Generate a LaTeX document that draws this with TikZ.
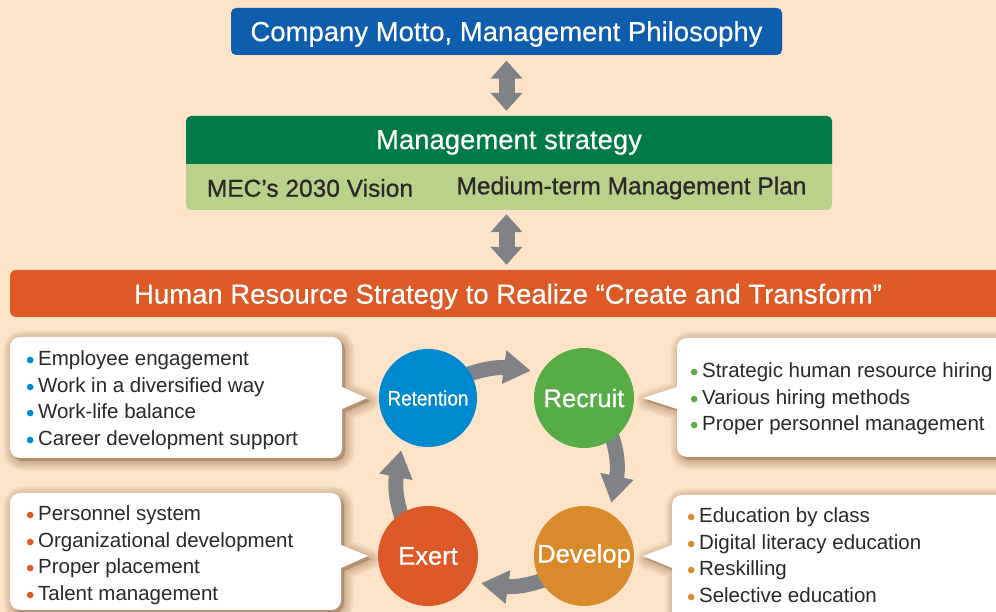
\documentclass[tikz,border=0pt]{standalone}
\usepackage{fontspec}
\usepackage{graphicx}
\setmainfont{Liberation Sans}
\newfontfamily\medfont[FakeBold=0.8]{Liberation Sans}
\newfontfamily\titlefamily[FakeBold=0.4]{Liberation Sans}
\usetikzlibrary{arrows.meta,bending,calc}

\definecolor{bgpeach}{HTML}{FDE4C8}
\definecolor{mottoblue}{HTML}{0F5DAD}
\definecolor{dkgreen}{HTML}{007B48}
\definecolor{ltgreen}{HTML}{BAD189}
\definecolor{hrorange}{HTML}{DD5A27}
\definecolor{arrowgray}{HTML}{808285}
\definecolor{retblue}{HTML}{0089CF}
\definecolor{recgreen}{HTML}{58AC47}
\definecolor{exorange}{HTML}{DD5A28}
\definecolor{devgold}{HTML}{D98B2B}
\definecolor{txt}{HTML}{2A2828}
\definecolor{shadebrown}{HTML}{7A4A20}

% coloured list bullet
\newcommand\itembullet[1]{\raisebox{-3pt}{\fontsize{24}{24}\selectfont\textcolor{#1}{•}}\hspace{3.5pt}}

% outlines of the four speech bubbles
\newcommand\bubbleRet{(176,275) [rounded corners=10pt] -- (342,275) -- (342,235) [sharp corners]
  -- (342,225) -- (367,214) -- (342,203) -- (342,193) [rounded corners=10pt]
  -- (342,154) -- (10,154) -- (10,275) -- cycle}
\newcommand\bubbleRec{(840,274) [rounded corners=10pt] -- (1010,274) -- (1010,155) -- (677,155)
  -- (677,193) [sharp corners] -- (677,203) -- (643,214) -- (677,225) -- (677,235)
  [rounded corners=10pt] -- (677,274) -- cycle}
\newcommand\bubbleEx{(176,119) [rounded corners=10pt] -- (341,119) -- (341,77) [sharp corners]
  -- (341,67) -- (368,56) -- (341,44) -- (341,34) [rounded corners=10pt]
  -- (341,2) -- (10,2) -- (10,119) -- cycle}
\newcommand\bubbleDev{(840,117) [rounded corners=10pt] -- (1010,117) -- (1010,-20) -- (672,-20)
  -- (672,34) [sharp corners] -- (672,44) -- (643,56) -- (672,67) -- (672,77)
  [rounded corners=10pt] -- (672,117) -- cycle}

\pgfdeclarelayer{backdrop}
\pgfdeclarelayer{cycle}
\pgfsetlayers{backdrop,cycle,main}

\begin{document}
\begin{tikzpicture}[x=1pt,y=1pt,
  titlefont/.style={font=\titlefamily\fontsize{27.5}{30}\selectfont, text=white},
  banner/.style={rounded corners=5pt, inner sep=0pt},
  updown/.style={draw=arrowgray, line width=16pt,
    {Triangle[width=31pt,length=18pt]}-{Triangle[width=31pt,length=18pt]}},
  cyc/.style={draw=arrowgray, line width=15pt, -{Triangle[width=32pt,length=27pt]},
    shorten >=10pt, shorten <=-6pt},
  stage/.style={circle, minimum size=100pt, inner sep=0pt, text=white,
    font=\medfont\fontsize{25.5}{28}\selectfont},
  softshade/.style={draw=shadebrown, fill=shadebrown, opacity=0.035,
    line join=round, xshift=3pt, yshift=-3pt},
  item/.style={anchor=base west, inner sep=0pt, text=txt,
    font=\fontsize{20.5}{24}\selectfont},
]
\useasboundingbox (0,0) rectangle (996,612);
\begin{pgfonlayer}{backdrop}
\fill[bgpeach] (0,0) rectangle (996,612);
\end{pgfonlayer}

% ---- Company motto ----
\node[banner, fill=mottoblue, minimum width=551pt, minimum height=47pt]
  (motto) at (506.5,580.5) {};
\node[titlefont] (mottolabel) at (506.5,578) {Company Motto, Management Philosophy};

% ---- Management strategy block ----
\node[banner, fill=ltgreen, minimum width=646pt, minimum height=94pt]
  (strat) at (509,449) {};
\fill[dkgreen] (186,448) -- (186,460) [rounded corners=5pt] -- (186,496) -- (832,496)
  -- (832,460) [sharp corners] -- (832,448) -- cycle;
\node[titlefont] (stratlabel) at (509,469.5) {Management strategy};
\node[text=txt, font=\medfont\fontsize{24.5}{27}\selectfont] (vision) at (310,424) {MEC’s 2030 Vision};
\node[text=txt, font=\medfont\fontsize{24.5}{27}\selectfont] (plan) at (631.5,424) {Medium-term Management Plan};

% ---- HR strategy bar ----
\node[rounded corners=6pt, fill=hrorange, minimum width=1010pt, minimum height=47pt]
  (hr) at (515,318.5) {};
\node[titlefont] (hrlabel) at (508,315.5) {Human Resource Strategy to Realize “Create and Transform”};

% ---- two-way links ----
\draw[updown, shorten <=5.5pt, shorten >=5pt] (motto.south) -- (motto.south |- strat.north);
\draw[updown, shorten <=4pt, shorten >=5pt] (motto.south |- strat.south) -- (motto.south |- hr.north);

% ---- callouts: soft shadow built from stacked translucent strokes, then the white body ----
\foreach \w in {20,18,...,2} {
  \filldraw[softshade, line width=\w pt] \bubbleRet;
  \filldraw[softshade, line width=\w pt] \bubbleRec;
  \filldraw[softshade, line width=\w pt] \bubbleEx;
  \filldraw[softshade, line width=\w pt] \bubbleDev;
}
\fill[white] \bubbleRet;
\fill[white] \bubbleRec;
\fill[white] \bubbleEx;
\fill[white] \bubbleDev;

\foreach \t [count=\i] in {Employee engagement, Work in a diversified way,
    Work-life balance, Career development support}
  \node[item] (ret-\i) at (26,{246.5-26.7*(\i-1)}) {\itembullet{retblue}\t};
\foreach \t [count=\i] in {Strategic human resource hiring, Various hiring methods,
    Proper personnel management}
  \node[item] (rec-\i) at (690,{234.5-26.7*(\i-1)}) {\itembullet{recgreen}\t};
\foreach \t [count=\i] in {Personnel system, Organizational development,
    Proper placement, Talent management}
  \node[item] (ex-\i) at (26,{91.5-26.7*(\i-1)}) {\itembullet{exorange}\t};
\foreach \t [count=\i] in {Education by class, Digital literacy education,
    Reskilling, Selective education}
  \node[item] (dev-\i) at (687,{89.5-26.7*(\i-1)}) {\itembullet{devgold}\t};

% ---- cycle ----
\node[stage, fill=retblue, minimum size=98pt, font=\medfont\fontsize{21}{24}\selectfont]
  (retention) at (428,214) {\scalebox{0.9}[1]{Retention}};
\node[stage, fill=recgreen] (recruit) at (584,214) {Recruit};
\node[stage, fill=exorange] (exert) at (428,56) {Exert};
\node[stage, fill=devgold] (develop) at (584,56) {Develop};

\begin{pgfonlayer}{cycle}
\draw[cyc] (retention.30) to[out=19, in=167] (recruit.150);
\draw[cyc] (recruit.-55) to[out=-71, in=77] (develop.60);
\draw[cyc] (develop.-150) to[out=-161, in=-13] (exert.-30);
\draw[cyc] (exert.123) to[out=109, in=-103] (retention.-120);
\end{pgfonlayer}
\end{tikzpicture}
\end{document}
